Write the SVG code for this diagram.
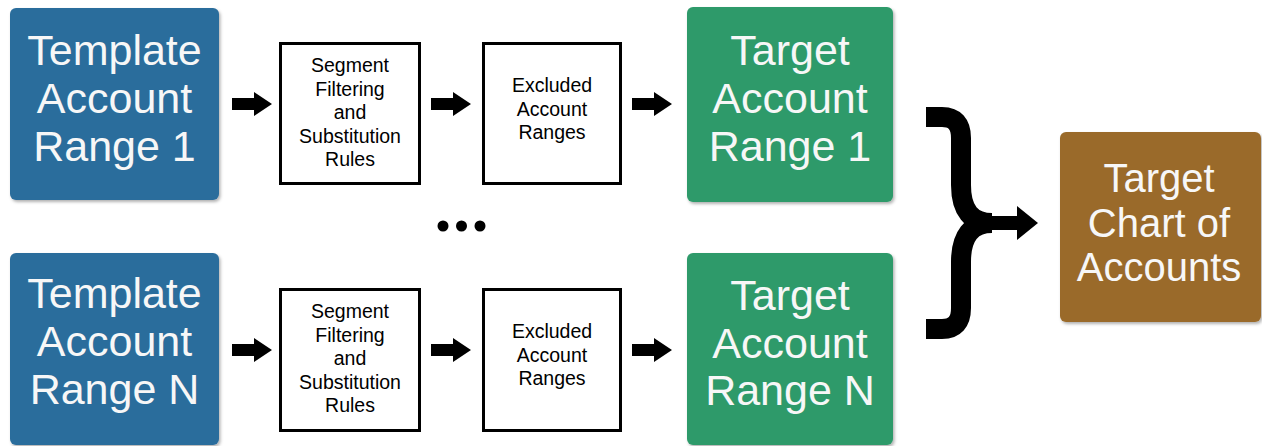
<svg xmlns="http://www.w3.org/2000/svg" width="1262" height="446" viewBox="0 0 1262 446">
<style>
.big{font-family:"Liberation Sans",Arial,sans-serif;font-size:43px;fill:#f7f7f7;text-anchor:middle}
.brn{font-family:"Liberation Sans",Arial,sans-serif;font-size:40px;fill:#f7f7f7;text-anchor:middle}
.sm{font-family:"Liberation Sans",Arial,sans-serif;font-size:19.5px;fill:#000;text-anchor:middle}
.wbox{fill:#fff;stroke:#000;stroke-width:3}
.blue{fill:#2c6d9c}
.green{fill:#2f9a6b}
.brown{fill:#9a6b2b}
.arr{fill:#000}
.brace{fill:none;stroke:#000;stroke-width:20;stroke-linejoin:round}
</style>
<defs>
<filter id="sh" x="-5%" y="-5%" width="115%" height="115%">
<feDropShadow dx="1.5" dy="2" stdDeviation="1.5" flood-color="#000" flood-opacity="0.3"/>
</filter>
<polygon id="ar" points="0,-6 22,-6 22,-12 40,0 22,12 22,6 0,6"/>
</defs>
<rect width="1262" height="446" fill="#fff"/>

<g id="template1">
<rect class="blue" x="10" y="8" width="209" height="192" rx="6" filter="url(#sh)"/>
<text class="big" x="114.5" y="65">Template</text>
<text class="big" x="114.5" y="113">Account</text>
<text class="big" x="114.5" y="161">Range 1</text>
</g>
<g id="segment1">
<rect class="wbox" x="280.5" y="43.5" width="139" height="140"/>
<text class="sm" x="350" y="72">Segment</text>
<text class="sm" x="350" y="95.5">Filtering</text>
<text class="sm" x="350" y="119">and</text>
<text class="sm" x="350" y="142.5">Substitution</text>
<text class="sm" x="350" y="166">Rules</text>
</g>
<g id="excluded1">
<rect class="wbox" x="483.5" y="43.5" width="137" height="140"/>
<text class="sm" x="552" y="92">Excluded</text>
<text class="sm" x="552" y="115.5">Account</text>
<text class="sm" x="552" y="139">Ranges</text>
</g>
<g id="target1">
<rect class="green" x="687" y="7" width="206" height="195" rx="6" filter="url(#sh)"/>
<text class="big" x="790" y="65">Target</text>
<text class="big" x="790" y="113">Account</text>
<text class="big" x="790" y="161">Range 1</text>
</g>

<g id="templateN">
<rect class="blue" x="10" y="253" width="209" height="192" rx="6" filter="url(#sh)"/>
<text class="big" x="114.5" y="308">Template</text>
<text class="big" x="114.5" y="356">Account</text>
<text class="big" x="114.5" y="404">Range N</text>
</g>
<g id="segmentN">
<rect class="wbox" x="280.5" y="289.5" width="139" height="141"/>
<text class="sm" x="350" y="318">Segment</text>
<text class="sm" x="350" y="341.5">Filtering</text>
<text class="sm" x="350" y="365">and</text>
<text class="sm" x="350" y="388.5">Substitution</text>
<text class="sm" x="350" y="412">Rules</text>
</g>
<g id="excludedN">
<rect class="wbox" x="483.5" y="289.5" width="137" height="141"/>
<text class="sm" x="552" y="338">Excluded</text>
<text class="sm" x="552" y="361.5">Account</text>
<text class="sm" x="552" y="385">Ranges</text>
</g>
<g id="targetN">
<rect class="green" x="687" y="253" width="206" height="192" rx="6" filter="url(#sh)"/>
<text class="big" x="790" y="310">Target</text>
<text class="big" x="790" y="358">Account</text>
<text class="big" x="790" y="405">Range N</text>
</g>

<g id="chart">
<rect class="brown" x="1060" y="132" width="201" height="190" rx="6" filter="url(#sh)"/>
<text class="brn" x="1159" y="192">Target</text>
<text class="brn" x="1159" y="237">Chart of</text>
<text class="brn" x="1159" y="281">Accounts</text>
</g>

<g id="ellipsis">
<circle cx="443" cy="226" r="5.5" fill="#000"/>
<circle cx="461.5" cy="226" r="5.5" fill="#000"/>
<circle cx="480" cy="226" r="5.5" fill="#000"/>
</g>

<g id="connectors">
<use href="#ar" class="arr" x="232" y="104"/>
<use href="#ar" class="arr" x="431" y="104"/>
<use href="#ar" class="arr" x="632" y="104"/>
<use href="#ar" class="arr" x="232" y="350"/>
<use href="#ar" class="arr" x="431" y="350"/>
<use href="#ar" class="arr" x="632" y="350"/>
<path class="brace" d="M926,117 L942,117 Q961,117 961,138 L961,185 Q961,223 992,223"/>
<path class="brace" d="M926,329 L942,329 Q961,329 961,308 L961,262 Q961,223 992,223"/>
<rect x="985" y="216" width="35" height="14" fill="#000"/>
<polygon points="1017,206 1038,223 1017,240" fill="#000"/>
</g>
</svg>
